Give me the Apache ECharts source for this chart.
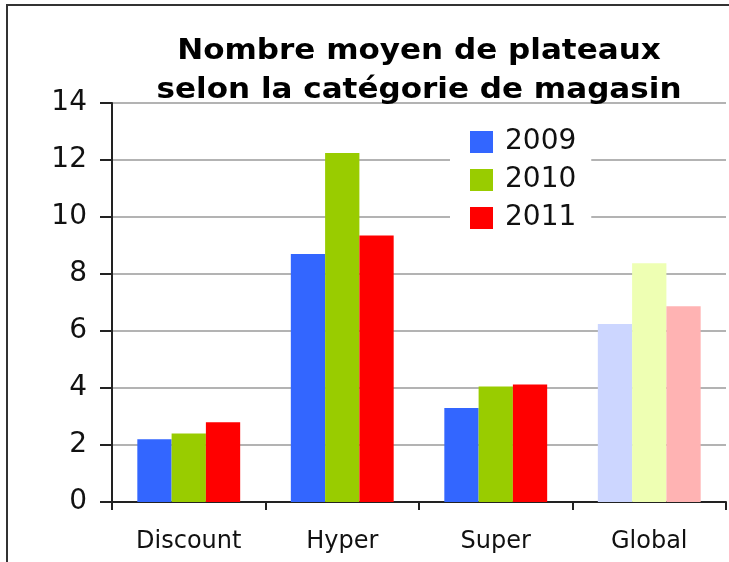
<!DOCTYPE html>
<html>
<head>
<meta charset="utf-8">
<script src="https://cdn.jsdelivr.net/npm/echarts@6/dist/echarts.min.js"></script>
<style>
  html, body { margin: 0; padding: 0; background: #fff; }
  #main { width: 729px; height: 562px; }
</style>
</head>
<body>
<div id="main"></div>
<script>
// donnees
var categories = ['Discount', 'Hyper', 'Super', 'Global'];
var years = ['2009', '2010', '2011'];
var v2009 = [2.2, 8.7, 3.3, 6.25];
var v2010 = [2.4, 12.25, 4.05, 8.38];
var v2011 = [2.8, 9.35, 4.12, 6.87];
var yTicks = [0, 14, 2]; // min, max, pas

// couleurs : normales + pales pour "Global"
var mainColors = ['#3366ff', '#99cc00', '#ff0000'];
var paleColors = ['#ccd6ff', '#eeffb3', '#ffb3b3'];

var myChart = echarts.init(document.getElementById('main'));

function buildData(values, idx) {
    return values.map(function (v, i) {
        if (categories[i] === 'Global') {
            return { value: v, itemStyle: { color: paleColors[idx] } };
        }
        return v;
    });
}

var allValues = [v2009, v2010, v2011];
var series = years.map(function (y, idx) {
    return {
        name: y,
        type: 'bar',
        barGap: 0,
        barCategoryGap: '33%',
        itemStyle: { color: mainColors[idx] },
        data: buildData(allValues[idx], idx)
    };
});

var titleFont = 'bold 29px "DejaVu Sans"';

var option = {
    animation: false,
    backgroundColor: '#fff',
    textStyle: { fontFamily: '"DejaVu Sans"' },
    grid: { left: 112, right: 3, top: 103, bottom: 60 },
    legend: {
        orient: 'vertical',
        left: 450,
        top: 118,
        padding: [10, 15, 10, 20],
        backgroundColor: '#fff',
        icon: 'rect',
        itemWidth: 23,
        itemHeight: 22,
        itemGap: 10,
        textStyle: { fontSize: 28, color: '#111', lineHeight: 28, padding: [0, 0, 0, 7] },
        data: years
    },
    xAxis: {
        type: 'category',
        data: categories,
        axisLine: { lineStyle: { color: '#222', width: 2 } },
        axisTick: { show: true, length: 8, lineStyle: { color: '#222', width: 2 } },
        axisLabel: { fontSize: 24, color: '#111', margin: 28 }
    },
    yAxis: {
        type: 'value',
        min: yTicks[0],
        max: yTicks[1],
        interval: yTicks[2],
        axisLine: { show: true, lineStyle: { color: '#222', width: 2 } },
        axisTick: { show: true, length: 12, lineStyle: { color: '#222', width: 2 } },
        axisLabel: { fontSize: 28, color: '#111', margin: 25, padding: [7, 0, 0, 0] },
        splitLine: { lineStyle: { color: '#9a9a9a', width: 1.5 } }
    },
    graphic: [
        {
            type: 'polyline',
            shape: { points: [[7, 562], [7, 5], [729, 5]] },
            style: { stroke: '#333', lineWidth: 2, fill: null }
        },
        {
            type: 'text', x: 419, y: 51, scaleX: 1.07, z: 10,
            style: { text: 'Nombre moyen de plateaux', font: titleFont, fill: '#000',
                     align: 'center', textAlign: 'center', verticalAlign: 'middle', textVerticalAlign: 'middle' }
        },
        {
            type: 'text', x: 419, y: 90, scaleX: 1.07, z: 10,
            style: { text: 'selon la catégorie de magasin', font: titleFont, fill: '#000',
                     align: 'center', textAlign: 'center', verticalAlign: 'middle', textVerticalAlign: 'middle' }
        }
    ],
    series: series
};

myChart.setOption(option);
</script>
</body>
</html>
